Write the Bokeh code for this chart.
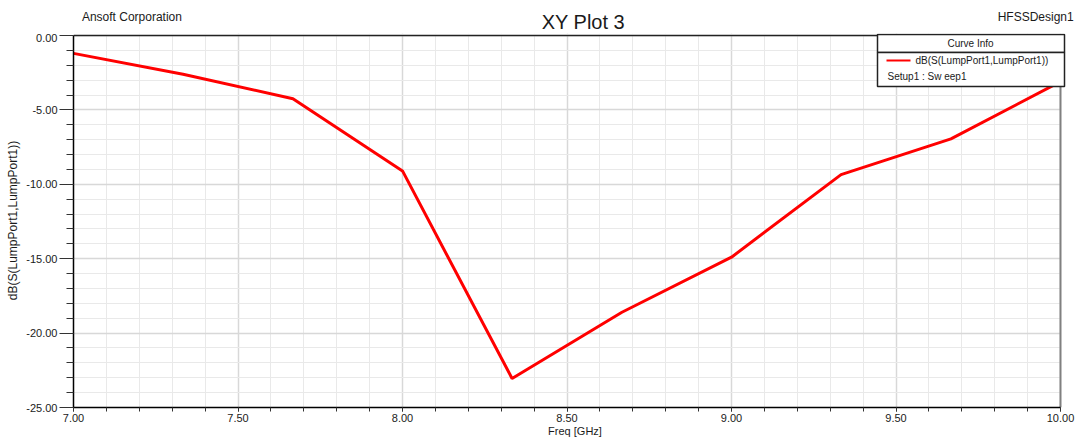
from bokeh.plotting import figure
from bokeh.layouts import column
from bokeh.models import (SingleIntervalTicker, PrintfTickFormatter, Label,
                          BoxAnnotation, Range1d)
from bokeh.embed import file_html
from bokeh.resources import INLINE

# ---------------- data ----------------
freq_ghz = [7.0, 7.333, 7.667, 8.0, 8.333, 8.667, 9.0, 9.333, 9.667, 10.0]
s11_db = [-1.2, -2.6, -4.25, -9.1, -23.05, -18.6, -14.9, -9.35, -6.95, -3.1]

x_limits = (7.0, 10.0)
y_limits = (-25.0, 0.0)
x_major_step = 0.5
y_major_step = 5.0

title_text = "XY Plot 3"
company_text = "Ansoft Corporation"
design_text = "HFSSDesign1"
x_label = "Freq [GHz]"
y_label = "dB(S(LumpPort1,LumpPort1))"
legend_header = "Curve Info"
legend_curve = "dB(S(LumpPort1,LumpPort1))"
legend_setup = "Setup1 : Sw eep1"

# ---------------- layout (page pixels) ----------------
W, H = 1076, 439
HEAD_H = 33                      # height of the header strip
MAIN_H = H - HEAD_H
PL, PR, PT, PB = 73, 1060, 35, 407   # plot box (x = 7..10, y = 0..-25) in page px
FRAME_TOP = HEAD_H               # main frame starts right under header strip
FONT = "Liberation Sans"
INK = "#1a1a1a"

sx = (x_limits[1] - x_limits[0]) / (PR - PL)
sy = (y_limits[1] - y_limits[0]) / (PB - PT)


def dx(px):
    return x_limits[0] + (px - PL) * sx


def dy(py):
    return y_limits[1] - (py - PT) * sy


# ---------------- header strip ----------------
head = figure(width=W, height=HEAD_H, x_range=Range1d(0, W), y_range=Range1d(HEAD_H, 0),
              x_axis_location=None, y_axis_location=None,
              output_backend="svg", toolbar_location=None,
              min_border_left=0, min_border_right=0, min_border_top=0, min_border_bottom=0)
head.outline_line_color = None
head.xgrid.visible = False
head.ygrid.visible = False
head.background_fill_color = "white"
head.border_fill_color = "white"
head.add_layout(Label(x=9, y=16, text=company_text, text_font=FONT,
                      text_font_size="12px", text_color=INK,
                      text_align="left", text_baseline="alphabetic"))
head.add_layout(Label(x=547, y=21, text=title_text, text_font=FONT,
                      text_font_size="20px", text_color=INK,
                      text_align="center", text_baseline="alphabetic"))
head.add_layout(Label(x=1073, y=16, text=design_text, text_font=FONT,
                      text_font_size="12px", text_color=INK,
                      text_align="right", text_baseline="alphabetic"))

# ---------------- main plot ----------------
p = figure(width=W, height=MAIN_H,
           x_range=Range1d(x_limits[0], dx(W)),
           y_range=Range1d(y_limits[0], dy(FRAME_TOP)),
           output_backend="svg", toolbar_location=None,
           min_border_left=PL, min_border_right=0,
           min_border_top=0, min_border_bottom=H - PB)
p.background_fill_color = "white"
p.border_fill_color = "white"
p.outline_line_color = None

p.xaxis.ticker = SingleIntervalTicker(interval=x_major_step, num_minor_ticks=5)
p.yaxis.ticker = SingleIntervalTicker(interval=y_major_step, num_minor_ticks=5)
p.xgrid.ticker = p.xaxis.ticker
p.ygrid.ticker = p.yaxis.ticker
p.xaxis.formatter = PrintfTickFormatter(format="%.2f")
p.yaxis.formatter = PrintfTickFormatter(format="%.2f")
p.xaxis.bounds = x_limits
p.yaxis.bounds = y_limits

for g in (p.xgrid, p.ygrid):
    g.grid_line_color = "#d8d8d8"
    g.grid_line_width = 1.5
    g.minor_grid_line_color = "#e9e9e9"
    g.minor_grid_line_width = 1

for ax in (p.xaxis, p.yaxis):
    ax.axis_line_color = "#000000"
    ax.axis_line_width = 1.5
    ax.major_tick_line_color = "#333333"
    ax.minor_tick_line_color = "#333333"
    ax.major_tick_in = 0
    ax.minor_tick_in = 0
    ax.major_label_text_font = FONT
    ax.major_label_text_font_size = "11px"
    ax.major_label_text_color = INK
    ax.axis_label_text_font = FONT
    ax.axis_label_text_font_style = "normal"
    ax.axis_label_text_color = INK

p.xaxis.axis_label = x_label
p.xaxis.axis_label_text_font_size = "11px"
p.xaxis.major_tick_out = 4
p.xaxis.minor_tick_out = 4
p.xaxis.major_label_standoff = 2
p.xaxis.axis_label_standoff = 0

p.yaxis.axis_label = y_label
p.yaxis.axis_label_text_font_size = "12px"
p.yaxis.major_tick_out = 14
p.yaxis.minor_tick_out = 7
p.yaxis.major_label_standoff = 2
p.yaxis.axis_label_standoff = 3

# blank out the grid outside the plot box (above 0 dB and right of 10 GHz)
p.add_layout(BoxAnnotation(bottom=y_limits[1], fill_color="white", fill_alpha=1.0,
                           line_alpha=0, level="underlay"))
p.add_layout(BoxAnnotation(left=x_limits[1], fill_color="white", fill_alpha=1.0,
                           line_alpha=0, level="underlay"))

# plot box top (black) and right (grey) borders
p.segment(x0=[x_limits[0]], y0=[y_limits[1]], x1=[x_limits[1]], y1=[y_limits[1]],
          line_color="#222222", line_width=1.5)
p.segment(x0=[x_limits[1]], y0=[y_limits[0]], x1=[x_limits[1]], y1=[y_limits[1]],
          line_color="#808080", line_width=2)

# data curve
p.line(freq_ghz, s11_db, line_color="#ff0000", line_width=3)

# "Curve Info" box
p.add_layout(BoxAnnotation(left=dx(877), right=dx(1064), top=dy(34), bottom=dy(52),
                           fill_color="white", fill_alpha=1.0,
                           line_color="#222222", line_width=1.5, line_alpha=1.0))
p.add_layout(BoxAnnotation(left=dx(877), right=dx(1064), top=dy(52), bottom=dy(86),
                           fill_color="white", fill_alpha=1.0,
                           line_color="#222222", line_width=1.5, line_alpha=1.0))
p.add_layout(Label(x=dx(970), y=dy(43), text=legend_header, text_font=FONT,
                   text_font_size="10px", text_color=INK,
                   text_align="center", text_baseline="middle"))
p.segment(x0=[dx(886)], y0=[dy(60)], x1=[dx(910)], y1=[dy(60)],
          line_color="#ff0000", line_width=2, level="overlay")
p.add_layout(Label(x=dx(915), y=dy(60), text=legend_curve, text_font=FONT,
                   text_font_size="10px", text_color=INK,
                   text_align="left", text_baseline="middle"))
p.add_layout(Label(x=dx(887), y=dy(76), text=legend_setup, text_font=FONT,
                   text_font_size="10px", text_color=INK,
                   text_align="left", text_baseline="middle"))

layout = column(head, p, spacing=0)
open("out.html", "w").write(file_html(layout, INLINE))
